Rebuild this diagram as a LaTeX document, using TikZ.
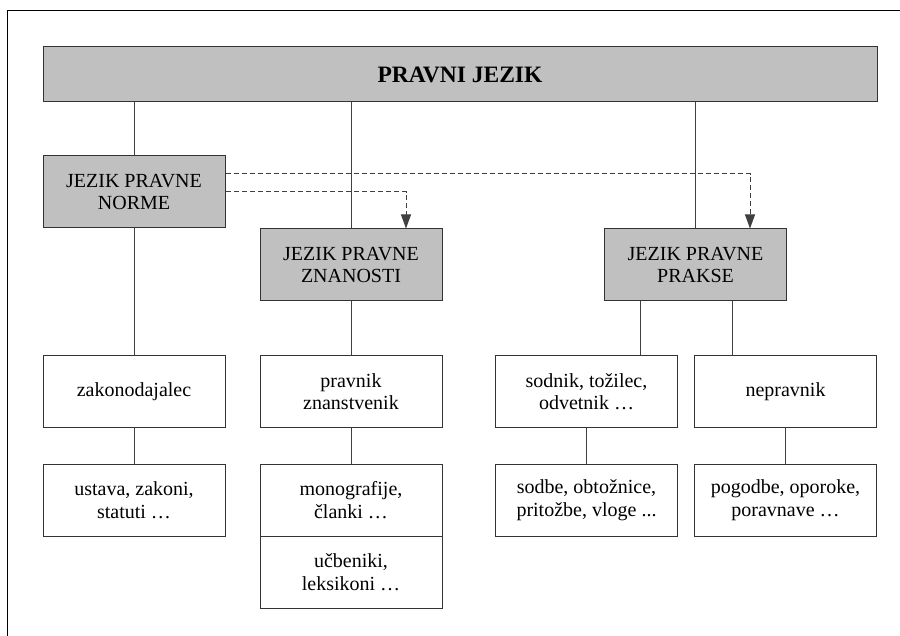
\documentclass[tikz,border=0pt]{standalone}
\usepackage{fontspec}
\setmainfont{Liberation Serif}
\usetikzlibrary{arrows.meta}
\definecolor{boxgrey}{RGB}{192,192,192}
\begin{document}
\begin{tikzpicture}[
    x=1pt, y=-1pt,
    every node/.style={draw=black!80, line width=1pt, rectangle, align=center, inner sep=0pt,
        minimum width=182pt, minimum height=72pt, font=\fontsize{20}{22.6}\selectfont},
    lang/.style={fill=boxgrey},
    item/.style={fill=white},
    link/.style={draw=black!75, line width=1pt},
    ref/.style={link, dash pattern=on 5pt off 3pt, -{Triangle[length=14pt, width=10pt]}}
]
    \useasboundingbox (0,0) rectangle (900,636);
    % frame
    \draw[line width=1pt] (7,636) |- (900,11);

    \node[lang, minimum width=834pt, minimum height=55pt,
          font=\fontsize{23.5}{26}\selectfont\bfseries] (root) at (460,74.5) {PRAVNI JEZIK};

    \node[lang] (norme)    at (134,192)   {JEZIK PRAVNE\\NORME};
    \node[lang] (znanost)  at (351,265)   {JEZIK PRAVNE\\ZNANOSTI};
    \node[lang] (praksa)   at (695.5,265) {JEZIK PRAVNE\\PRAKSE};

    \node[item] (zakon)    at (134,391.5)   {zakonodajalec};
    \node[item] (pravnik)  at (351,391.5)   {pravnik\\znanstvenik};
    \node[item] (sodnik)   at (586.5,391.5) {sodnik, tožilec,\\odvetnik …};
    \node[item] (nepravnik) at (785.5,391.5) {nepravnik};

    \node[item] (ustava)   at (134,500)   {ustava, zakoni,\\statuti …};
    \node[item] (mono)     at (351,500)   {monografije,\\članki …};
    \node[item] (ucbenik)  at (351,572)   {učbeniki,\\leksikoni …};
    \node[item] (sodbe)    at (586.5,500) {sodbe, obtožnice,\\pritožbe, vloge ...};
    \node[item] (pogodbe)  at (785.5,500) {pogodbe, oporoke,\\poravnave …};

    % from the root
    \draw[link] (norme.north) -- (norme.north |- root.south);
    \draw[link] (znanost.north) -- (znanost.north |- root.south);
    \draw[link] (praksa.north) -- (praksa.north |- root.south);

    % down the columns
    \draw[link] (norme.south) -- (norme.south |- zakon.north);
    \draw[link] (znanost) -- (pravnik);
    \draw[link] ([xshift=-55pt]praksa.south) -- ([xshift=-55pt]praksa.south |- sodnik.north);
    \draw[link] ([xshift=37pt]praksa.south) -- ([xshift=37pt]praksa.south |- nepravnik.north);
    \draw[link] (zakon) -- (ustava);
    \draw[link] (pravnik) -- (mono);
    \draw[link] (sodnik) -- (sodbe);
    \draw[link] (nepravnik) -- (pogodbe);

    % dashed references
    \draw[ref] ([yshift=18pt]norme.east) -| ([xshift=54.5pt]praksa.north);
    \draw[ref] (norme.east) -| ([xshift=55pt]znanost.north);
\end{tikzpicture}
\end{document}
